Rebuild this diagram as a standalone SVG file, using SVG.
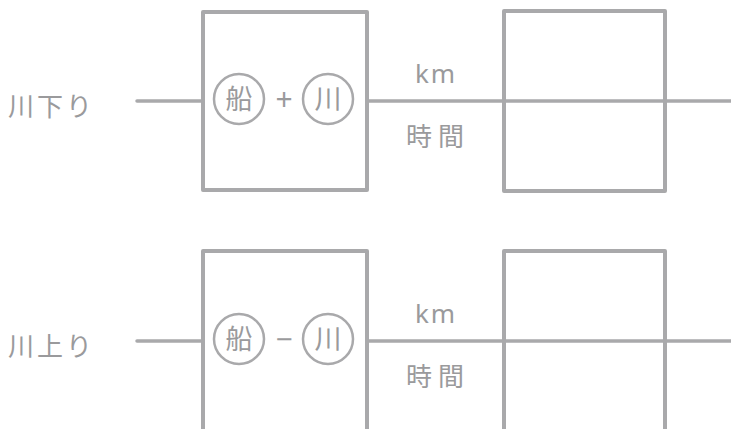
<svg xmlns="http://www.w3.org/2000/svg" width="731" height="429" viewBox="0 0 731 429">
<style>
.box{fill:none;stroke:#a9a9ab;stroke-width:4;stroke-linejoin:round}
.ln{fill:none;stroke:#a9a9ab;stroke-width:3.5;stroke-linecap:round}
.circ{fill:none;stroke:#a9a9ab;stroke-width:2.5}
.t{font-family:"Noto Sans","Noto Sans CJK JP",sans-serif;fill:#9a9a9c}
.lab{font-size:26px;letter-spacing:3px}
.in{font-size:27px;text-anchor:middle;dominant-baseline:central}
.op{font-size:30px;text-anchor:middle;dominant-baseline:central}
.unit{font-size:26px;text-anchor:middle;letter-spacing:2px}
.jt{font-size:26px;text-anchor:middle;letter-spacing:6px}
</style>
<g id="connectors">
  <line class="ln" x1="137" y1="101" x2="203" y2="101"/>
  <line class="ln" x1="367" y1="101" x2="731" y2="101"/>
  <line class="ln" x1="137" y1="341" x2="203" y2="341"/>
  <line class="ln" x1="367" y1="341" x2="731" y2="341"/>
</g>
<g id="label-kudari"><text class="t lab" x="8" y="116">川下り</text></g>
<g id="box-top-left">
  <rect class="box" x="203" y="12" width="164" height="178"/>
  <circle class="circ" cx="239" cy="99" r="25"/>
  <text class="t in" x="239" y="98">船</text>
  <text class="t op" x="284" y="98">+</text>
  <circle class="circ" cx="328" cy="99" r="25"/>
  <text class="t in" x="328" y="98">川</text>
</g>
<g id="units-top">
  <text class="t unit" x="436" y="83">km</text>
  <text class="t jt" x="438" y="146">時間</text>
</g>
<g id="box-top-right"><rect class="box" x="504" y="11" width="161" height="180"/></g>
<g id="label-nobori"><text class="t lab" x="8" y="356">川上り</text></g>
<g id="box-bottom-left">
  <rect class="box" x="203" y="251" width="164" height="200"/>
  <circle class="circ" cx="239" cy="339" r="25"/>
  <text class="t in" x="239" y="338">船</text>
  <text class="t op" x="284" y="338">−</text>
  <circle class="circ" cx="328" cy="339" r="25"/>
  <text class="t in" x="328" y="338">川</text>
</g>
<g id="units-bottom">
  <text class="t unit" x="436" y="323">km</text>
  <text class="t jt" x="438" y="386">時間</text>
</g>
<g id="box-bottom-right"><rect class="box" x="504" y="251" width="161" height="200"/></g>
</svg>
